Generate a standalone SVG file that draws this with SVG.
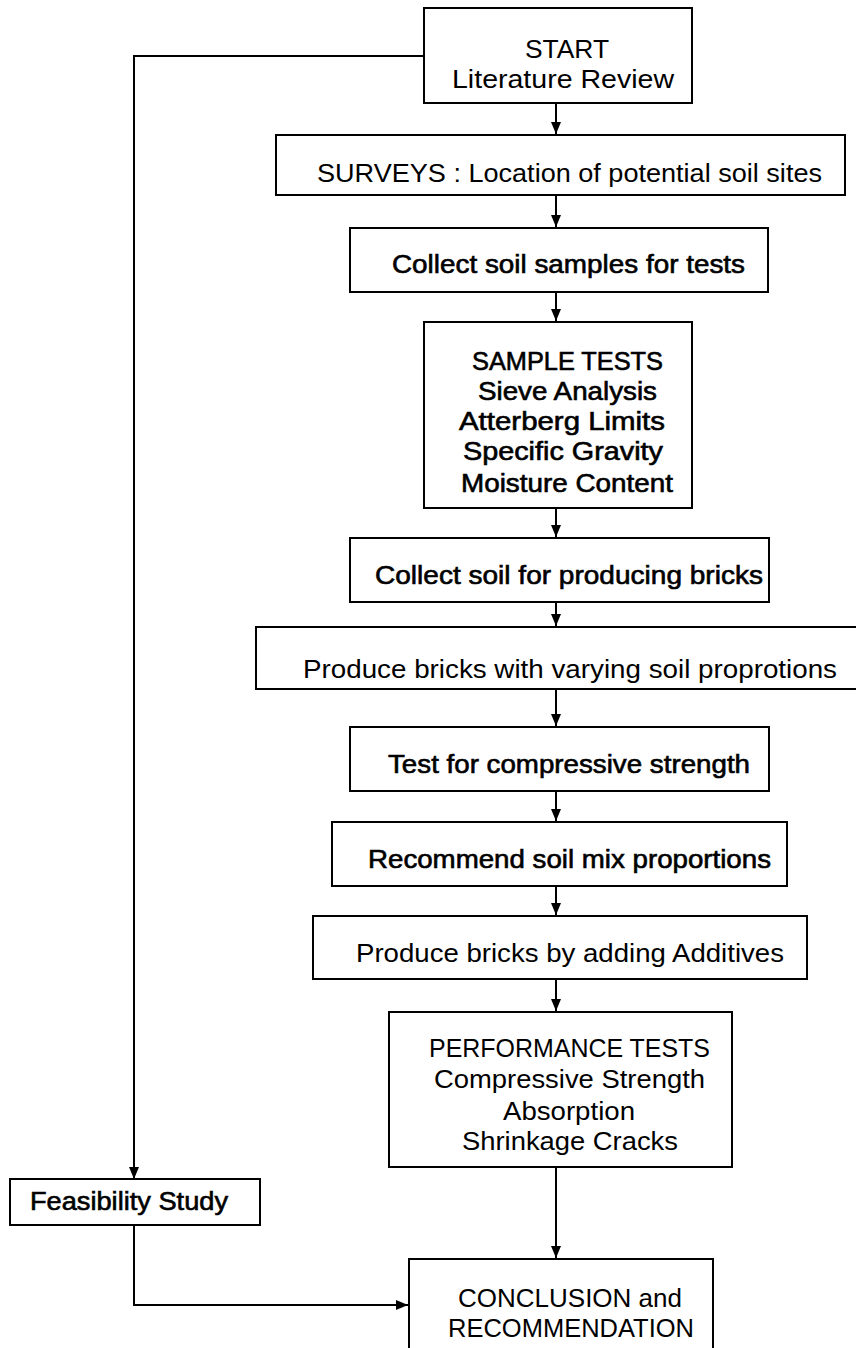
<svg xmlns="http://www.w3.org/2000/svg" width="856" height="1348" viewBox="0 0 856 1348">
<defs>
<marker id="ah" markerUnits="userSpaceOnUse" markerWidth="13" markerHeight="13" viewBox="0 0 13 13" refX="12" refY="6.5" orient="auto">
<path d="M0,1.5 L12,6.5 L0,11.5 Z" fill="#000"/>
</marker>
<style>
.box{fill:#fff;stroke:#000;stroke-width:2}
.open{fill:none;stroke:#000;stroke-width:2}
.c{fill:none;stroke:#000;stroke-width:2}
text{font-family:"Liberation Sans",Arial,Helvetica,sans-serif;font-size:25px;fill:#000}
.hv{stroke:#000;stroke-width:0.6}
</style>
</defs>
<rect width="856" height="1348" fill="#fff"/>

<g id="connectors">
<path class="c" d="M556,103 V134" marker-end="url(#ah)"/>
<path class="c" d="M556,195 V227" marker-end="url(#ah)"/>
<path class="c" d="M556,292 V321" marker-end="url(#ah)"/>
<path class="c" d="M556,508 V537" marker-end="url(#ah)"/>
<path class="c" d="M556,602 V626" marker-end="url(#ah)"/>
<path class="c" d="M556,689 V726" marker-end="url(#ah)"/>
<path class="c" d="M556,791 V821" marker-end="url(#ah)"/>
<path class="c" d="M556,886 V915" marker-end="url(#ah)"/>
<path class="c" d="M556,979 V1011" marker-end="url(#ah)"/>
<path class="c" d="M556,1167 V1258" marker-end="url(#ah)"/>
<path class="c" d="M424,56 H134 V1179" marker-end="url(#ah)"/>
<path class="c" d="M134,1225 V1305 H408" marker-end="url(#ah)"/>
</g>

<g id="start">
<rect class="box" x="424" y="8" width="268" height="95"/>
<text x="525" y="58" textLength="84" lengthAdjust="spacingAndGlyphs">START</text>
<text x="452" y="88" textLength="222" lengthAdjust="spacingAndGlyphs">Literature Review</text>
</g>

<g id="surveys">
<rect class="box" x="276" y="135" width="569" height="60"/>
<text x="317" y="182" textLength="505" lengthAdjust="spacingAndGlyphs">SURVEYS : Location of potential soil sites</text>
</g>

<g id="collect-samples">
<rect class="box" x="350" y="228" width="418" height="64"/>
<text class="hv" x="392" y="273" textLength="353" lengthAdjust="spacingAndGlyphs">Collect soil samples for tests</text>
</g>

<g id="sample-tests">
<rect class="box" x="424" y="322" width="268" height="186"/>
<text class="hv" x="472" y="370" textLength="191" lengthAdjust="spacingAndGlyphs">SAMPLE TESTS</text>
<text class="hv" x="478" y="400" textLength="179" lengthAdjust="spacingAndGlyphs">Sieve Analysis</text>
<text class="hv" x="459" y="430" textLength="206" lengthAdjust="spacingAndGlyphs">Atterberg Limits</text>
<text class="hv" x="463" y="460" textLength="200" lengthAdjust="spacingAndGlyphs">Specific Gravity</text>
<text class="hv" x="461" y="492" textLength="212" lengthAdjust="spacingAndGlyphs">Moisture Content</text>
</g>

<g id="collect-bricks">
<rect class="box" x="350" y="538" width="419" height="64"/>
<text class="hv" x="375" y="584" textLength="388" lengthAdjust="spacingAndGlyphs">Collect soil for producing bricks</text>
</g>

<g id="produce-varying">
<path class="open" d="M857,627 H256 V689 H857"/>
<text x="303" y="678" textLength="534" lengthAdjust="spacingAndGlyphs">Produce bricks with varying soil proprotions</text>
</g>

<g id="test-compressive">
<rect class="box" x="350" y="727" width="419" height="64"/>
<text class="hv" x="388" y="773" textLength="362" lengthAdjust="spacingAndGlyphs">Test for compressive strength</text>
</g>

<g id="recommend">
<rect class="box" x="332" y="822" width="455" height="64"/>
<text class="hv" x="368" y="868" textLength="403" lengthAdjust="spacingAndGlyphs">Recommend soil mix proportions</text>
</g>

<g id="additives">
<rect class="box" x="313" y="916" width="494" height="63"/>
<text x="356" y="962" textLength="428" lengthAdjust="spacingAndGlyphs">Produce bricks by adding Additives</text>
</g>

<g id="performance">
<rect class="box" x="389" y="1012" width="343" height="155"/>
<text x="429" y="1057" textLength="281" lengthAdjust="spacingAndGlyphs">PERFORMANCE TESTS</text>
<text x="434" y="1088" textLength="271" lengthAdjust="spacingAndGlyphs">Compressive Strength</text>
<text x="503" y="1120" textLength="132" lengthAdjust="spacingAndGlyphs">Absorption</text>
<text x="462" y="1150" textLength="216" lengthAdjust="spacingAndGlyphs">Shrinkage Cracks</text>
</g>

<g id="feasibility">
<rect class="box" x="10" y="1179" width="250" height="46"/>
<text class="hv" x="30" y="1210" textLength="198" lengthAdjust="spacingAndGlyphs">Feasibility Study</text>
</g>

<g id="conclusion">
<path class="open" d="M409,1349 V1259 H713 V1349"/>
<text x="458" y="1307" textLength="224" lengthAdjust="spacingAndGlyphs">CONCLUSION and</text>
<text x="448" y="1337" textLength="246" lengthAdjust="spacingAndGlyphs">RECOMMENDATION</text>
</g>
</svg>
